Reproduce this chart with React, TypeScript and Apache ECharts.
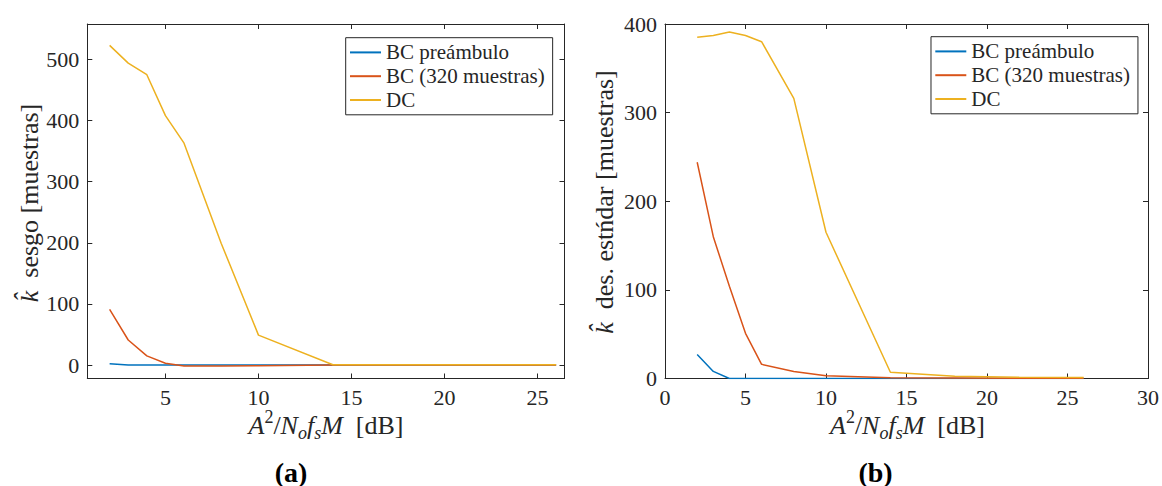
import React, { useEffect, useRef } from "react";
import * as echarts from "echarts";

// x values: A^2/NofsM [dB]
const X_DB = [2, 3, 4, 5, 6, 8, 10, 14, 18, 22, 26];
// (a) bias of k-hat [muestras]
const BIAS_PRE = [2, 0, 0, 0, 0, 0, 0, 0, 0, 0, 0];
const BIAS_BC320 = [91, 41, 15, 3, -1.5, -1.5, -1, 0, 0, 0, 0];
const BIAS_DC = [523, 494, 475, 408, 363, 199, 49, 0.5, 0.5, 0.5, 0.5];
// (b) standard deviation of k-hat [muestras]
const STD_PRE = [27, 8, 0, 0, 0, 0, 0, 0, 0, 0, 0];
const STD_BC320 = [244, 160, 104, 51, 16, 8, 3, 0.8, 0.5, 0.3, 0.2];
const STD_DC = [385, 387, 391, 387, 380, 316, 165, 7, 2.5, 1.5, 1];

const SERIES_NAMES = ["BC preámbulo", "BC (320 muestras)", "DC"];
const COLORS = ["#0072BD", "#D95319", "#EDB120"];
const X_LABEL = "{i|A}{sup|2}{n|/}{i|N}{sub|o}{i|f}{sub|s}{i|M}{n|\u2002[dB]}";
const Y_LABEL_A = "{k|k\u0302}{n|\u2002sesgo [muestras]}";
const Y_LABEL_B = "{k|k\u0302}{n|\u2002des. estńdar [muestras]}";
const SUBTITLES = ["(a)", "(b)"];

export default function App() {
  const ref = useRef<HTMLDivElement>(null);
  useEffect(() => {
    const chart = echarts.init(ref.current!, undefined, { renderer: "svg" });
    const font = "Liberation Serif";
    const ac = "#262626";

    const axisBase = (gridIndex: number, showLabel: boolean, opts: any) => ({
      type: "value",
      gridIndex,
      axisLine: { show: true, onZero: false, lineStyle: { color: ac, width: 1 } },
      axisTick: { show: true, inside: true, length: 5, lineStyle: { color: ac, width: 1 } },
      axisLabel: {
        show: showLabel,
        color: ac,
        fontFamily: font,
        fontSize: 22,
        margin: 8,
      },
      splitLine: { show: false },
      ...opts,
    });

    const xA = { min: 0.8, max: 26.45, splitNumber: 5 };
    const yA = { min: -22, max: 558, splitNumber: 5 };
    const xB = { min: 0, max: 30, interval: 5 };
    const yB = { min: 0, max: 400, interval: 100 };

    const hideEnds = (o: any) => ({
      ...o,
      axisLabel: { ...o.axisLabel, showMinLabel: false, showMaxLabel: false },
    });

    const xAxis = [
      hideEnds(axisBase(0, true, { ...xA, position: "bottom" })),
      axisBase(0, false, { ...xA, position: "top" }),
      axisBase(1, true, { ...xB, position: "bottom" }),
      axisBase(1, false, { ...xB, position: "top" }),
    ];
    const yAxis = [
      hideEnds(axisBase(0, true, { ...yA, position: "left" })),
      axisBase(0, false, { ...yA, position: "right" }),
      axisBase(1, true, { ...yB, position: "left" }),
      axisBase(1, false, { ...yB, position: "right" }),
    ];

    const mkSeries = (name: string, color: string, ys: number[], g: number) => ({
      type: "line",
      name,
      xAxisIndex: g * 2,
      yAxisIndex: g * 2,
      data: X_DB.map((x, i) => [x, ys[i]]),
      symbol: "none",
      showSymbol: false,
      lineStyle: { color, width: 1.5 },
      itemStyle: { color },
    });

    const series = [
      mkSeries(SERIES_NAMES[0], COLORS[0], BIAS_PRE, 0),
      mkSeries(SERIES_NAMES[1], COLORS[1], BIAS_BC320, 0),
      mkSeries(SERIES_NAMES[2], COLORS[2], BIAS_DC, 0),
      mkSeries(SERIES_NAMES[0], COLORS[0], STD_PRE, 1),
      mkSeries(SERIES_NAMES[1], COLORS[1], STD_BC320, 1),
      mkSeries(SERIES_NAMES[2], COLORS[2], STD_DC, 1),
    ];

    const mkLegend = (left: number, top: number) => ({
      show: true,
      orient: "vertical",
      left,
      top,
      data: SERIES_NAMES,
      icon: "rect",
      itemWidth: 31,
      itemHeight: 2,
      itemGap: 2.8,
      padding: [4.2, 8, 4.3, 4.3],
      borderColor: ac,
      borderWidth: 1,
      backgroundColor: "#fff",
      selectedMode: false,
      textStyle: { fontFamily: font, fontSize: 21, color: ac, lineHeight: 20 },
    });

    const richX = {
      n: { fontFamily: font, fontSize: 26, fill: ac, color: ac, lineHeight: 34, verticalAlign: "middle" },
      i: { fontFamily: font, fontSize: 26, fontStyle: "italic", fill: ac, color: ac, lineHeight: 34, verticalAlign: "middle" },
      sup: { fontFamily: font, fontSize: 18, fill: ac, color: ac, lineHeight: 18, verticalAlign: "top" },
      sub: { fontFamily: font, fontSize: 18, fontStyle: "italic", fill: ac, color: ac, lineHeight: 24, verticalAlign: "bottom" },
    };
    const richY = {
      n: { fontFamily: font, fontSize: 26, fill: ac, color: ac, lineHeight: 30 },
      k: { fontFamily: font, fontSize: 26, fontStyle: "italic", fill: ac, color: ac, lineHeight: 30 },
    };

    const txt = (x: number, y: number, text: string, rich: any, rotation = 0) => ({
      type: "text",
      x,
      y,
      rotation,
      silent: true,
      style: {
        text,
        rich,
        fontFamily: font,
        fontSize: 26,
        fill: ac,
        align: "center",
        verticalAlign: "middle",
        textAlign: "center",
        textVerticalAlign: "middle",
      },
    });
    const sub = (x: number, text: string) => ({
      type: "text",
      x,
      y: 472,
      silent: true,
      style: {
        text,
        fontFamily: font,
        fontSize: 28,
        lineHeight: 26,
        fontWeight: "bold",
        fill: "#000",
        align: "center",
        verticalAlign: "middle",
        textAlign: "center",
        textVerticalAlign: "middle",
      },
    });

    chart.setOption({
      animation: false,
      backgroundColor: "#fff",
      textStyle: { fontFamily: font },
      grid: [
        { left: 87.3, right: 1162 - 564.5, top: 24, bottom: 486 - 378.5 },
        { left: 665, right: 1162 - 1150, top: 24, bottom: 486 - 378.5 },
      ],
      xAxis,
      yAxis,
      legend: [mkLegend(345.7, 37.7), mkLegend(931, 36.7)],
      series,
      graphic: [
        txt(326, 425, X_LABEL, richX),
        txt(907.5, 425, X_LABEL, richX),
        txt(29, 203, Y_LABEL_A, richY, Math.PI / 2),
        txt(604, 202, Y_LABEL_B, richY, Math.PI / 2),
        sub(291, SUBTITLES[0]),
        sub(875.5, SUBTITLES[1]),
      ],
    });
    return () => chart.dispose();
  }, []);
  return (
    <div
      ref={ref}
      style={{ position: "fixed", left: 0, top: 0, width: 1162, height: 486, background: "#fff" }}
    />
  );
}
